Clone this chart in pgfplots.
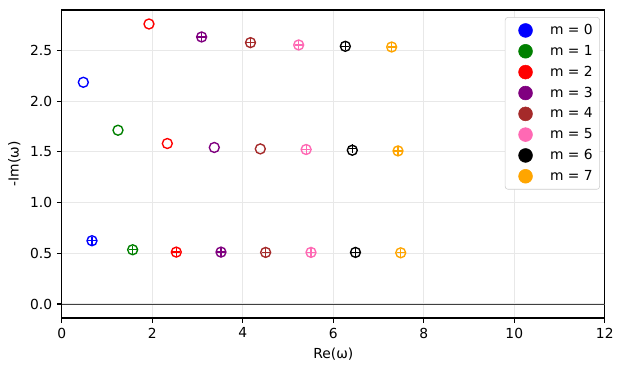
\documentclass[border=0pt]{standalone}
\usepackage{fontspec}
\setmainfont{DejaVu Sans}
\usepackage{pgfplots}
\pgfplotsset{compat=1.18}
\definecolor{mbrown}{HTML}{A52A2A}
\definecolor{mpink}{HTML}{FF69B4}
\definecolor{morange}{HTML}{FFA500}
\definecolor{mgreen}{HTML}{008000}
\definecolor{mpurple}{HTML}{800080}
\begin{document}
\begin{tikzpicture}
\begin{axis}[
 scale only axis, width=5.43in, height=3.08in,
 xmin=0, xmax=12, ymin=-0.138, ymax=2.90,
 xtick={0,2,...,12}, ytick={0,0.5,...,2.5},
 yticklabel style={/pgf/number format/.cd,fixed,fixed zerofill,precision=1},
 /pgf/number format/assume math mode=true,
 tick align=outside, tick pos=left, major tick length=3.5pt,
 every tick/.style={black, line width=0.8pt},
 axis line style={line width=0.8pt},
 grid=major, major grid style={color=black!9, line width=0.8pt},
 xlabel={Re(ω)}, ylabel={-Im(ω)},
 tick label style={font=\fontsize{10}{12}\selectfont},
 label style={font=\fontsize{10}{12}\selectfont},
 circ/.style={only marks, mark=o, mark size=3.6pt, line width=1pt, forget plot},
 pl/.style={only marks, mark=+, mark size=3pt, line width=0.9pt, forget plot},
 dot/.style={only marks, mark=*, mark size=5pt, #1,
   legend image code/.code={\path (0pt,0pt) (27pt,0pt);
     \draw plot[only marks, mark=*, mark size=5pt] coordinates {(11.5pt,0pt)};}},
 legend style={at={(0.991,0.977)}, anchor=north east, draw=black!20, rounded corners=2pt,
   fill=white, row sep=2.2pt, inner sep=3pt,
   font=\fontsize{10}{12}\selectfont},
 legend cell align=left,
]
\addplot[forget plot, black!75, line width=0.7pt] coordinates {(0,0) (12,0)};
% m = 0
\addplot[circ, blue] coordinates {(0.476,2.187) (0.667,0.624)};
\addplot[pl, blue] coordinates {(0.667,0.624)};
% m = 1
\addplot[circ, mgreen] coordinates {(1.242,1.714) (1.566,0.535)};
\addplot[pl, mgreen] coordinates {(1.566,0.535)};
% m = 2
\addplot[circ, red] coordinates {(1.927,2.762) (2.332,1.583) (2.530,0.512)};
\addplot[pl, red] coordinates {(2.530,0.512)};
% m = 3
\addplot[circ, mpurple] coordinates {(3.090,2.634) (3.370,1.544) (3.518,0.512)};
\addplot[pl, mpurple] coordinates {(3.090,2.634) (3.518,0.512)};
% m = 4
\addplot[circ, mbrown] coordinates {(4.170,2.578) (4.387,1.530) (4.505,0.509)};
\addplot[pl, mbrown] coordinates {(4.170,2.578) (4.505,0.509)};
% m = 5
\addplot[circ, mpink] coordinates {(5.235,2.555) (5.400,1.524) (5.507,0.509)};
\addplot[pl, mpink] coordinates {(5.235,2.555) (5.400,1.524) (5.507,0.509)};
% m = 6
\addplot[circ, black] coordinates {(6.266,2.542) (6.420,1.517) (6.490,0.509)};
\addplot[pl, black] coordinates {(6.266,2.542) (6.430,1.535) (6.490,0.509)};
% m = 7
\addplot[circ, morange] coordinates {(7.290,2.535) (7.430,1.510) (7.490,0.505)};
\addplot[pl, morange] coordinates {(7.290,2.535) (7.430,1.510) (7.490,0.505)};
% legend
\addlegendimage{dot=blue}\addlegendentry{m = 0}
\addlegendimage{dot=mgreen}\addlegendentry{m = 1}
\addlegendimage{dot=red}\addlegendentry{m = 2}
\addlegendimage{dot=mpurple}\addlegendentry{m = 3}
\addlegendimage{dot=mbrown}\addlegendentry{m = 4}
\addlegendimage{dot=mpink}\addlegendentry{m = 5}
\addlegendimage{dot=black}\addlegendentry{m = 6}
\addlegendimage{dot=morange}\addlegendentry{m = 7}
\end{axis}
\pgfresetboundingbox
\path ([xshift=-0.618in, yshift=-0.53in]current axis.south west) rectangle ([xshift=0.172in, yshift=0.1in]current axis.north east);
\end{tikzpicture}
\end{document}
